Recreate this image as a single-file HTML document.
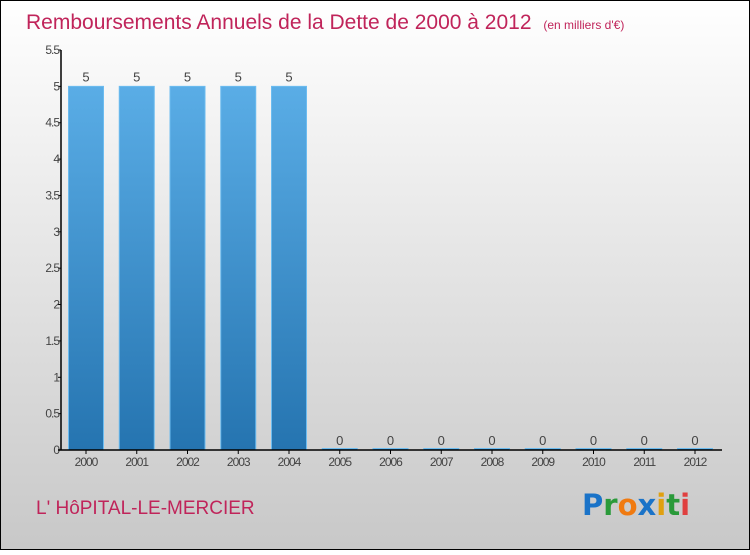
<!DOCTYPE html>
<html><head><meta charset="utf-8"><style>
body{margin:0;width:750px;height:550px;overflow:hidden;font-family:"Liberation Sans",sans-serif}
</style></head><body>
<svg width="750" height="550" xmlns="http://www.w3.org/2000/svg">
<defs>
<linearGradient id="bg" x1="0" y1="0" x2="0" y2="1"><stop offset="0" stop-color="#ffffff"/><stop offset="1" stop-color="#c8c8c8"/></linearGradient>
<linearGradient id="bar" x1="0" y1="0" x2="0" y2="1"><stop offset="0" stop-color="#5aade6"/><stop offset="1" stop-color="#2574b0"/></linearGradient>
</defs>
<rect x="0.5" y="0.5" width="749" height="549" fill="url(#bg)" stroke="#000"/>
<text x="26" y="29" font-size="21" fill="#c0245a">Remboursements Annuels de la Dette de 2000 à 2012 <tspan font-size="12" dx="6">(en milliers d'€)</tspan></text>
<g id="plot"></g>
<text x="36" y="514" font-size="19" fill="#c0245a">L' HôPITAL-LE-MERCIER</text>
<text x="582" y="515" font-size="29" font-family="DejaVu Sans" font-weight="bold"><tspan fill="#1a73c8">P</tspan><tspan fill="#2a9a3a">r</tspan><tspan fill="#f07a10">o</tspan><tspan fill="#1a73c8">x</tspan><tspan fill="#e0a010">i</tspan><tspan fill="#2a9a3a">t</tspan><tspan fill="#e04040">i</tspan></text>
</svg>
<script>
const categories=["2000","2001","2002","2003","2004","2005","2006","2007","2008","2009","2010","2011","2012"];
const values=[5,5,5,5,5,0,0,0,0,0,0,0,0];
const yTicks=[0,0.5,1,1.5,2,2.5,3,3.5,4,4.5,5,5.5];
const yTickLabels=["0","0.5","1","1.5","2","2.5","3","3.5","4","4.5","5","5.5"];
const NS="http://www.w3.org/2000/svg";
const g=document.getElementById('plot');
const y0=450,yTop=50,yMax=5.5,x0=86,step=50.75,bw=35,axX=61;
const yS=v=>y0-(v/yMax)*(y0-yTop);
const xS=i=>x0+i*step;
function mk(t,a){const e=document.createElementNS(NS,t);for(const k in a)e.setAttribute(k,a[k]);g.appendChild(e);return e;}
const ya=mk('line',{x1:axX,y1:yTop,x2:axX,y2:y0,stroke:'#000','stroke-width':1.5});


yTicks.forEach((v,i)=>{
 const l=mk('line',{x1:axX-3,y1:yS(v),x2:axX,y2:yS(v),stroke:'#000'});
 
 
 const t=mk('text',{x:axX-2,y:yS(v)+4,'font-size':12,fill:'#444','text-anchor':'end','letter-spacing':'-1'});
 t.textContent=yTickLabels[i];
 
 
});
categories.forEach((c,i)=>{
 const h=Math.max(y0-yS(values[i]),1.5);
 const r=mk('rect',{x:xS(i)-bw/2,y:y0-h,width:bw,height:h,fill:'url(#bar)',stroke:'#6cbcf0','stroke-width':1});
 
 
 const vl=mk('text',{x:xS(i),y:yS(values[i])-5,'font-size':13,fill:'#444','text-anchor':'middle'});
 vl.textContent=values[i];
 
 
 const tk=mk('line',{x1:xS(i),y1:y0,x2:xS(i),y2:y0+4,stroke:'#000'});
 
 
 const xl=mk('text',{x:xS(i),y:y0+16,'font-size':12,fill:'#444','text-anchor':'middle','letter-spacing':'-1'});
 xl.textContent=c;
 
 
});
const xa=mk('line',{x1:58,y1:y0,x2:722,y2:y0,stroke:'#000','stroke-width':1.5});


</script>
</body></html>
